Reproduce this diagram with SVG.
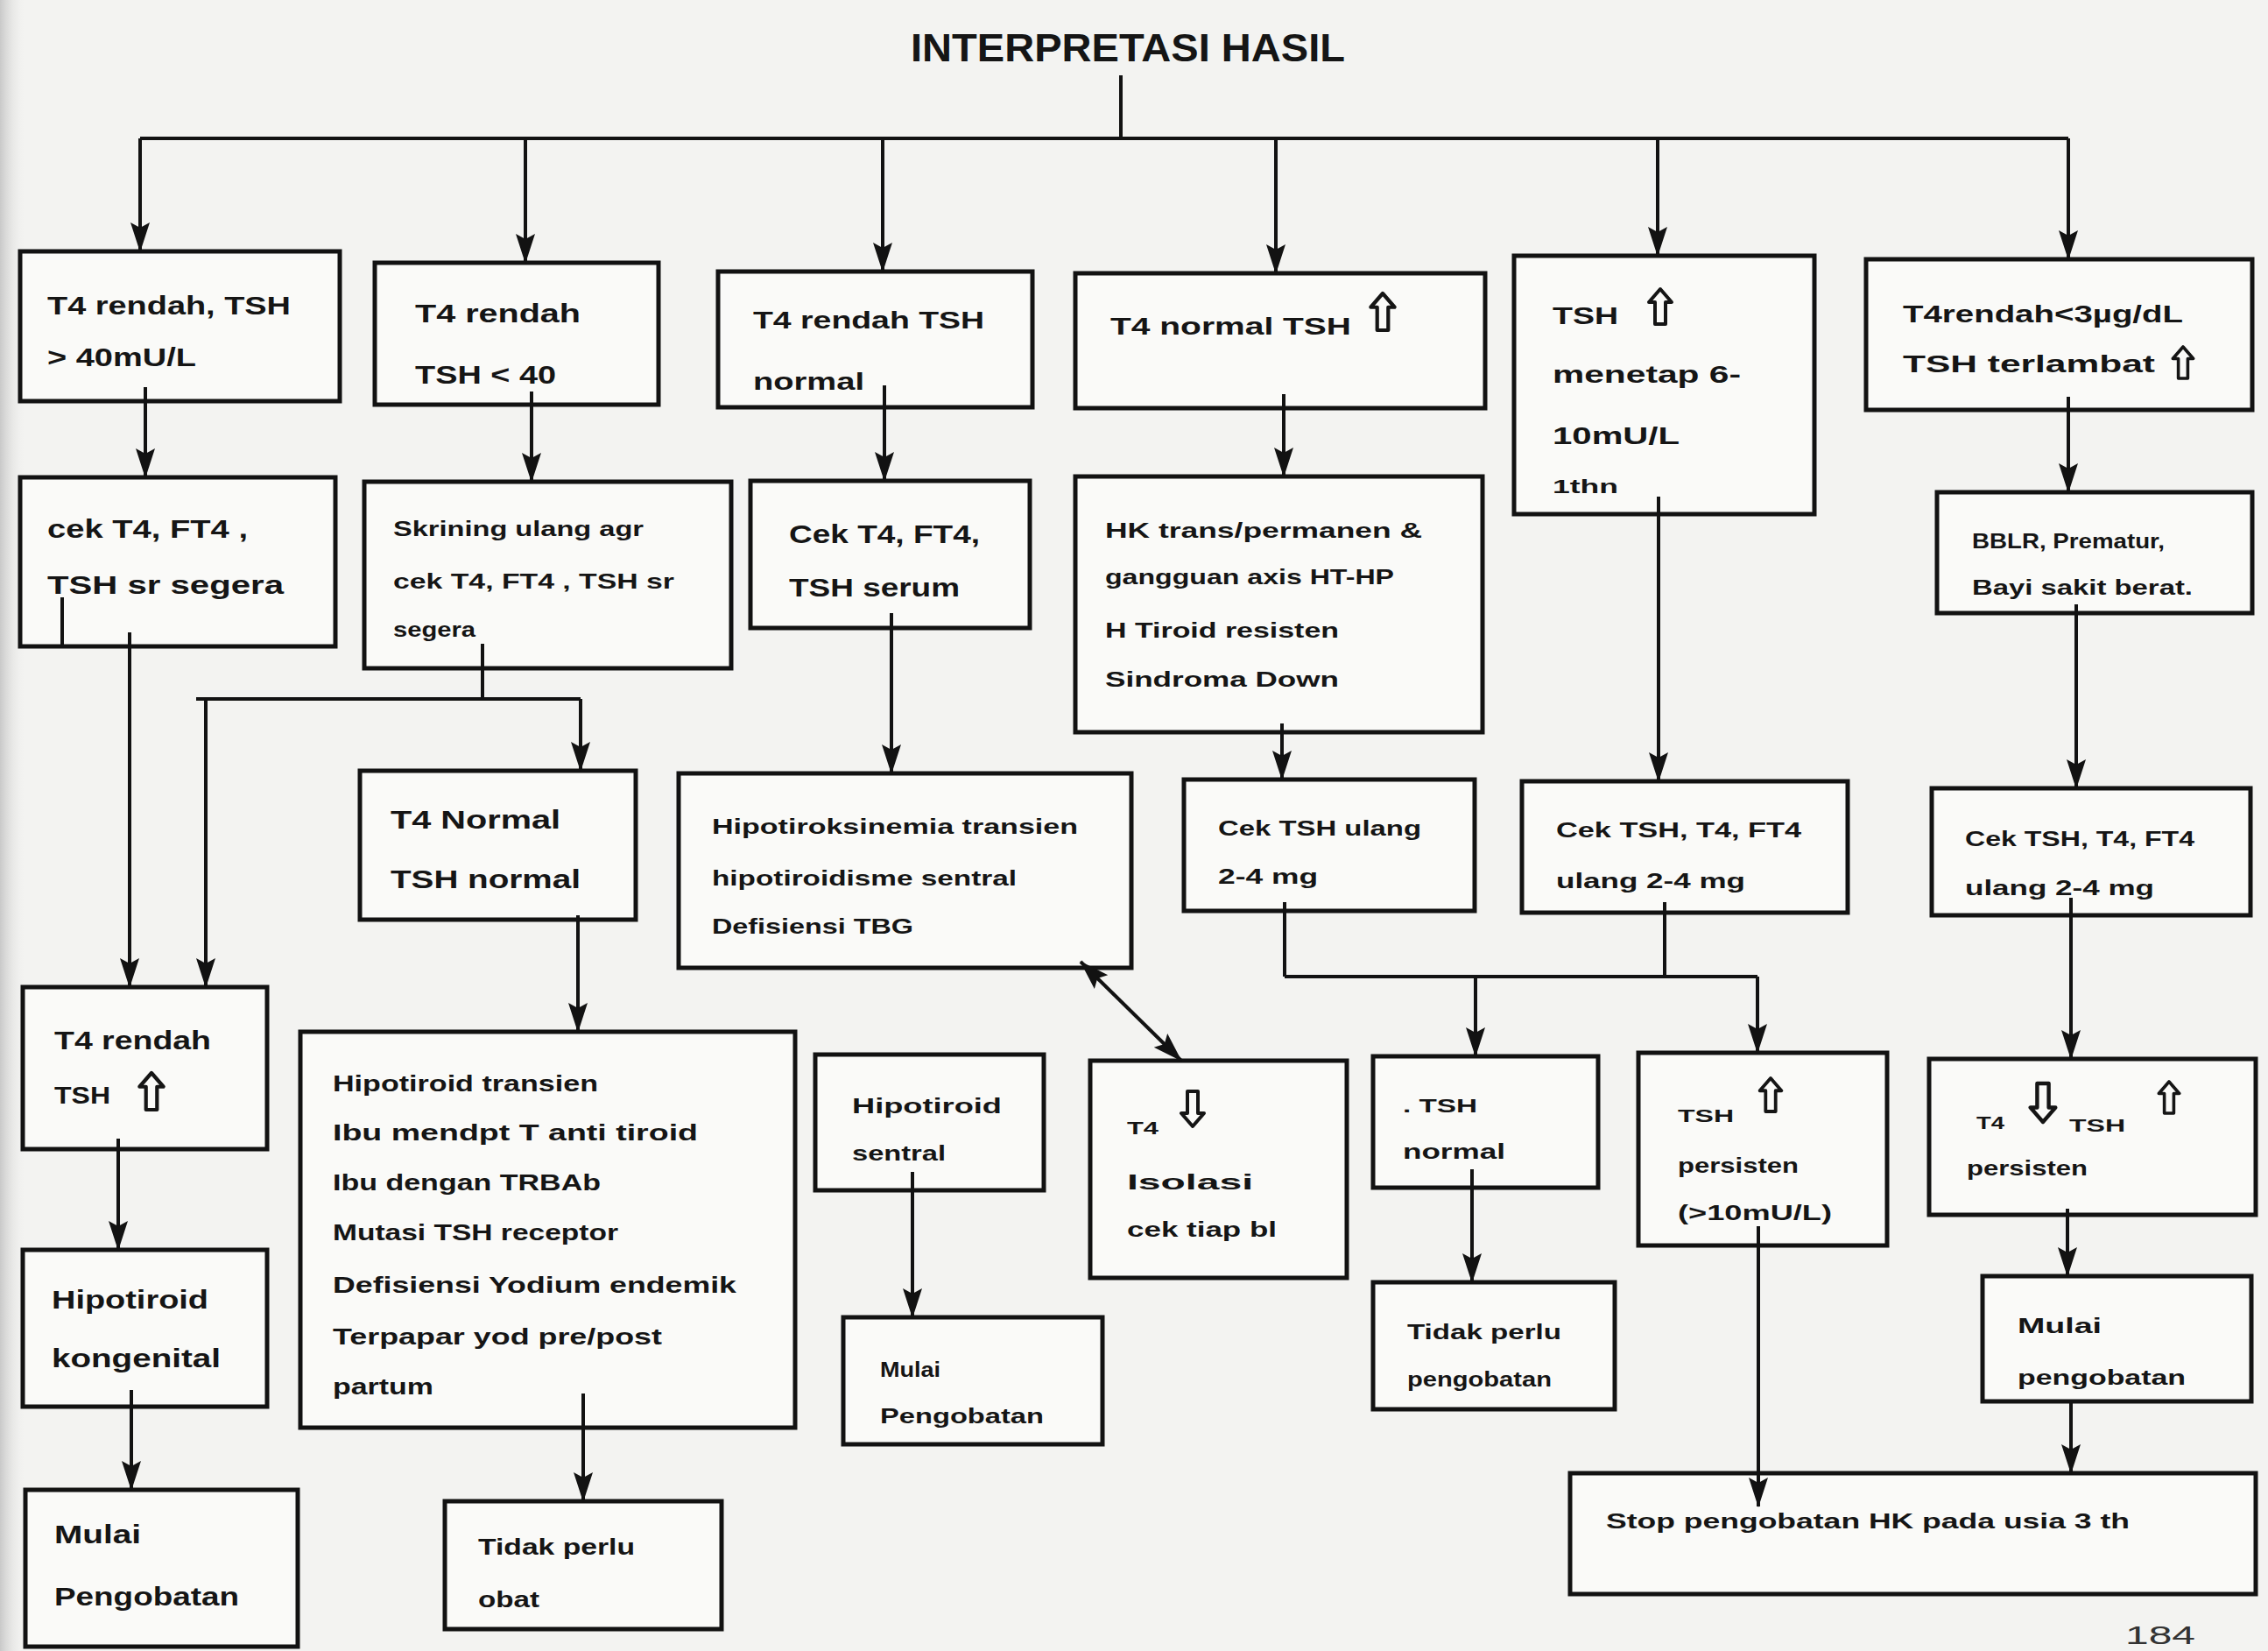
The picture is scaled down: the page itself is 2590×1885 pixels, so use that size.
<svg xmlns="http://www.w3.org/2000/svg" width="2590" height="1885" viewBox="0 0 2590 1885">
<style>
.bg{fill:#f3f3f1}
.box{fill:#fafaf8;stroke:#121212;stroke-width:5}
.t{font-family:"Liberation Sans",Arial,sans-serif;font-weight:bold;fill:#151515}
.s30{font-size:30px}.s28{font-size:28px}.s26{font-size:26px}.s24{font-size:24px}.s22{font-size:22px}.s20{font-size:20px}
.c{stroke:#121212;stroke-width:4;fill:none}
.a{marker-end:url(#ah)}
.ha{fill:none;stroke:#151515;stroke-width:4;stroke-linejoin:round}
</style>
<defs>
<marker id="ah" markerUnits="userSpaceOnUse" markerWidth="34" markerHeight="24" viewBox="0 0 34 24" refX="33" refY="12" orient="auto-start-reverse">
<path d="M0,1 L34,12 L0,23 L6,12 Z" fill="#121212"/>
</marker>
<path id="up" d="M0,-20 L13,-5 L6,-5 L6,20 L-6,20 L-6,-5 L-13,-5 Z"/>
<linearGradient id="edge" x1="0" y1="0" x2="1" y2="0">
<stop offset="0" stop-color="#c9c9c9"/>
<stop offset="1" stop-color="#f3f3f1" stop-opacity="0"/>
</linearGradient>
</defs>
<rect class="bg" x="0" y="0" width="2590" height="1885"/>
<rect x="0" y="0" width="30" height="1885" fill="url(#edge)"/>

<g id="title">
<text class="t" x="1040" y="70" font-size="44" textLength="496" lengthAdjust="spacingAndGlyphs">INTERPRETASI HASIL</text>
</g>

<g id="b1">
<rect class="box" x="23" y="287" width="365" height="171"/>
<text class="t s30" x="54" y="359" textLength="278" lengthAdjust="spacingAndGlyphs">T4 rendah, TSH</text>
<text class="t s30" x="54" y="418" textLength="170" lengthAdjust="spacingAndGlyphs">&gt; 40mU/L</text>
</g>
<g id="b2">
<rect class="box" x="428" y="300" width="324" height="162"/>
<text class="t s30" x="474" y="368" textLength="189" lengthAdjust="spacingAndGlyphs">T4  rendah</text>
<text class="t s30" x="474" y="438" textLength="161" lengthAdjust="spacingAndGlyphs">TSH &lt; 40</text>
</g>
<g id="b3">
<rect class="box" x="820" y="310" width="359" height="155"/>
<text class="t s28" x="860" y="375" textLength="264" lengthAdjust="spacingAndGlyphs">T4 rendah TSH</text>
<text class="t s28" x="860" y="445" textLength="127" lengthAdjust="spacingAndGlyphs">normal</text>
</g>
<g id="b4">
<rect class="box" x="1228" y="312" width="468" height="154"/>
<text class="t s28" x="1268" y="382" textLength="275" lengthAdjust="spacingAndGlyphs">T4 normal TSH</text>
<use href="#up" class="ha" transform="translate(1579,356) scale(1.05)"/>
</g>
<g id="b5">
<rect class="box" x="1729" y="292" width="343" height="295"/>
<text class="t s28" x="1773" y="370" textLength="75" lengthAdjust="spacingAndGlyphs">TSH</text>
<use href="#up" class="ha" transform="translate(1896,350)"/>
<text class="t s28" x="1773" y="437" textLength="215" lengthAdjust="spacingAndGlyphs">menetap 6-</text>
<text class="t s28" x="1773" y="507" textLength="145" lengthAdjust="spacingAndGlyphs">10mU/L</text>
<text class="t s22" x="1773" y="563" textLength="75" lengthAdjust="spacingAndGlyphs">1thn</text>
</g>
<g id="b6">
<rect class="box" x="2131" y="296" width="441" height="172"/>
<text class="t s28" x="2173" y="368" textLength="320" lengthAdjust="spacingAndGlyphs">T4rendah&lt;3µg/dL</text>
<text class="t s28" x="2173" y="425" textLength="288" lengthAdjust="spacingAndGlyphs">TSH  terlambat</text>
<use href="#up" class="ha" transform="translate(2493,414) scale(0.9)"/>
</g>

<g id="c1">
<rect class="box" x="23" y="545" width="360" height="193"/>
<text class="t s30" x="54" y="614" textLength="229" lengthAdjust="spacingAndGlyphs">cek T4, FT4 ,</text>
<text class="t s30" x="54" y="678" textLength="270" lengthAdjust="spacingAndGlyphs">TSH  sr  segera</text>
</g>
<g id="c2">
<rect class="box" x="416" y="550" width="419" height="213"/>
<text class="t s24" x="449" y="612" textLength="286" lengthAdjust="spacingAndGlyphs">Skrining ulang agr</text>
<text class="t s24" x="449" y="672" textLength="321" lengthAdjust="spacingAndGlyphs">cek T4, FT4 , TSH  sr</text>
<text class="t s24" x="449" y="727" textLength="94" lengthAdjust="spacingAndGlyphs">segera</text>
</g>
<g id="c3">
<rect class="box" x="857" y="549" width="319" height="168"/>
<text class="t s30" x="901" y="620" textLength="218" lengthAdjust="spacingAndGlyphs">Cek T4, FT4,</text>
<text class="t s30" x="901" y="681" textLength="195" lengthAdjust="spacingAndGlyphs">TSH serum</text>
</g>
<g id="c4">
<rect class="box" x="1228" y="544" width="465" height="292"/>
<text class="t s24" x="1262" y="614" textLength="362" lengthAdjust="spacingAndGlyphs">HK trans/permanen  &amp;</text>
<text class="t s24" x="1262" y="667" textLength="330" lengthAdjust="spacingAndGlyphs">gangguan  axis HT-HP</text>
<text class="t s24" x="1262" y="728" textLength="267" lengthAdjust="spacingAndGlyphs">H Tiroid resisten</text>
<text class="t s24" x="1262" y="784" textLength="267" lengthAdjust="spacingAndGlyphs">Sindroma Down</text>
</g>
<g id="c5">
<rect class="box" x="2212" y="562" width="360" height="138"/>
<text class="t s24" x="2252" y="626" textLength="220" lengthAdjust="spacingAndGlyphs">BBLR, Prematur,</text>
<text class="t s24" x="2252" y="679" textLength="252" lengthAdjust="spacingAndGlyphs">Bayi  sakit berat.</text>
</g>

<g id="d1">
<rect class="box" x="411" y="880" width="315" height="170"/>
<text class="t s30" x="446" y="946" textLength="194" lengthAdjust="spacingAndGlyphs">T4 Normal</text>
<text class="t s30" x="446" y="1014" textLength="217" lengthAdjust="spacingAndGlyphs">TSH normal</text>
</g>
<g id="d2">
<rect class="box" x="775" y="883" width="517" height="222"/>
<text class="t s24" x="813" y="952" textLength="418" lengthAdjust="spacingAndGlyphs">Hipotiroksinemia transien</text>
<text class="t s24" x="813" y="1011" textLength="348" lengthAdjust="spacingAndGlyphs">hipotiroidisme sentral</text>
<text class="t s24" x="813" y="1066" textLength="230" lengthAdjust="spacingAndGlyphs">Defisiensi TBG</text>
</g>
<g id="d3">
<rect class="box" x="1352" y="890" width="332" height="150"/>
<text class="t s24" x="1391" y="954" textLength="232" lengthAdjust="spacingAndGlyphs">Cek TSH  ulang</text>
<text class="t s24" x="1391" y="1009" textLength="114" lengthAdjust="spacingAndGlyphs">2-4 mg</text>
</g>
<g id="d4">
<rect class="box" x="1738" y="892" width="372" height="150"/>
<text class="t s24" x="1777" y="956" textLength="280" lengthAdjust="spacingAndGlyphs">Cek TSH,  T4,  FT4</text>
<text class="t s24" x="1777" y="1014" textLength="216" lengthAdjust="spacingAndGlyphs">ulang 2-4 mg</text>
</g>
<g id="d5">
<rect class="box" x="2206" y="900" width="364" height="145"/>
<text class="t s24" x="2244" y="966" textLength="262" lengthAdjust="spacingAndGlyphs">Cek TSH, T4, FT4</text>
<text class="t s24" x="2244" y="1022" textLength="216" lengthAdjust="spacingAndGlyphs">ulang 2-4 mg</text>
</g>

<g id="e1">
<rect class="box" x="26" y="1127" width="279" height="185"/>
<text class="t s30" x="62" y="1198" textLength="179" lengthAdjust="spacingAndGlyphs">T4 rendah</text>
<text class="t s28" x="62" y="1260" textLength="64" lengthAdjust="spacingAndGlyphs">TSH</text>
<use href="#up" class="ha" transform="translate(173,1246) scale(1.05)"/>
</g>
<g id="e2">
<rect class="box" x="343" y="1178" width="565" height="452"/>
<text class="t s26" x="380" y="1246" textLength="303" lengthAdjust="spacingAndGlyphs">Hipotiroid transien</text>
<text class="t s26" x="380" y="1302" textLength="417" lengthAdjust="spacingAndGlyphs">Ibu mendpt T anti tiroid</text>
<text class="t s26" x="380" y="1359" textLength="306" lengthAdjust="spacingAndGlyphs">Ibu dengan TRBAb</text>
<text class="t s26" x="380" y="1416" textLength="326" lengthAdjust="spacingAndGlyphs">Mutasi TSH receptor</text>
<text class="t s26" x="380" y="1476" textLength="461" lengthAdjust="spacingAndGlyphs">Defisiensi  Yodium endemik</text>
<text class="t s26" x="380" y="1535" textLength="376" lengthAdjust="spacingAndGlyphs">Terpapar  yod pre/post</text>
<text class="t s26" x="380" y="1592" textLength="115" lengthAdjust="spacingAndGlyphs">partum</text>
</g>
<g id="e3">
<rect class="box" x="931" y="1204" width="261" height="155"/>
<text class="t s24" x="973" y="1271" textLength="171" lengthAdjust="spacingAndGlyphs">Hipotiroid</text>
<text class="t s24" x="973" y="1325" textLength="107" lengthAdjust="spacingAndGlyphs">sentral</text>
</g>
<g id="e4">
<rect class="box" x="1245" y="1211" width="293" height="248"/>
<text class="t s20" x="1287" y="1295" textLength="36" lengthAdjust="spacingAndGlyphs">T4</text>
<use href="#up" class="ha" transform="translate(1362,1266) rotate(180)"/>
<text class="t s24" x="1287" y="1358" textLength="144" lengthAdjust="spacingAndGlyphs">Isolasi</text>
<text class="t s24" x="1287" y="1412" textLength="171" lengthAdjust="spacingAndGlyphs">cek tiap bl</text>
</g>
<g id="e5">
<rect class="box" x="1568" y="1206" width="257" height="150"/>
<text class="t s22" x="1602" y="1270" textLength="85" lengthAdjust="spacingAndGlyphs">. TSH</text>
<text class="t s24" x="1602" y="1323" textLength="117" lengthAdjust="spacingAndGlyphs">normal</text>
</g>
<g id="e6">
<rect class="box" x="1871" y="1202" width="284" height="220"/>
<text class="t s20" x="1916" y="1281" textLength="64" lengthAdjust="spacingAndGlyphs">TSH</text>
<use href="#up" class="ha" transform="translate(2022,1250) scale(0.95)"/>
<text class="t s24" x="1916" y="1339" textLength="138" lengthAdjust="spacingAndGlyphs">persisten</text>
<text class="t s24" x="1916" y="1393" textLength="176" lengthAdjust="spacingAndGlyphs">(&gt;10mU/L)</text>
</g>
<g id="e7">
<rect class="box" x="2203" y="1209" width="373" height="178"/>
<text class="t s20" x="2257" y="1289" textLength="32" lengthAdjust="spacingAndGlyphs">T4</text>
<use href="#up" class="ha" transform="translate(2333,1259) rotate(180) scale(1.1)"/>
<text class="t s20" x="2363" y="1292" textLength="64" lengthAdjust="spacingAndGlyphs">TSH</text>
<use href="#up" class="ha" transform="translate(2477,1253) scale(0.9)"/>
<text class="t s24" x="2246" y="1342" textLength="138" lengthAdjust="spacingAndGlyphs">persisten</text>
</g>

<g id="f1">
<rect class="box" x="26" y="1427" width="279" height="179"/>
<text class="t s30" x="59" y="1494" textLength="179" lengthAdjust="spacingAndGlyphs">Hipotiroid</text>
<text class="t s30" x="59" y="1561" textLength="193" lengthAdjust="spacingAndGlyphs">kongenital</text>
</g>
<g id="f2">
<rect class="box" x="963" y="1504" width="296" height="145"/>
<text class="t s24" x="1005" y="1572" textLength="69" lengthAdjust="spacingAndGlyphs">Mulai</text>
<text class="t s24" x="1005" y="1625" textLength="187" lengthAdjust="spacingAndGlyphs">Pengobatan</text>
</g>
<g id="f3">
<rect class="box" x="1568" y="1464" width="276" height="145"/>
<text class="t s24" x="1607" y="1529" textLength="176" lengthAdjust="spacingAndGlyphs">Tidak perlu</text>
<text class="t s24" x="1607" y="1583" textLength="165" lengthAdjust="spacingAndGlyphs">pengobatan</text>
</g>
<g id="f4">
<rect class="box" x="2264" y="1457" width="307" height="143"/>
<text class="t s24" x="2304" y="1522" textLength="96" lengthAdjust="spacingAndGlyphs">Mulai</text>
<text class="t s24" x="2304" y="1581" textLength="192" lengthAdjust="spacingAndGlyphs">pengobatan</text>
</g>

<g id="g1">
<rect class="box" x="29" y="1701" width="311" height="179"/>
<text class="t s30" x="62" y="1762" textLength="99" lengthAdjust="spacingAndGlyphs">Mulai</text>
<text class="t s30" x="62" y="1833" textLength="211" lengthAdjust="spacingAndGlyphs">Pengobatan</text>
</g>
<g id="g2">
<rect class="box" x="508" y="1714" width="316" height="146"/>
<text class="t s26" x="546" y="1775" textLength="179" lengthAdjust="spacingAndGlyphs">Tidak perlu</text>
<text class="t s26" x="546" y="1835" textLength="70" lengthAdjust="spacingAndGlyphs">obat</text>
</g>
<g id="g3">
<rect class="box" x="1793" y="1682" width="783" height="138"/>
<text class="t s24" x="1834" y="1745" textLength="598" lengthAdjust="spacingAndGlyphs">Stop pengobatan  HK pada usia 3 th</text>
</g>

<g id="page">
<text x="2427" y="1877" font-family="Liberation Sans, Arial, sans-serif" font-size="30" fill="#333" textLength="80" lengthAdjust="spacingAndGlyphs">184</text>
</g>

<g id="connectors">
<path class="c" d="M1280,86 V158"/>
<path class="c" d="M160,158 H2362" stroke-width="6"/>
<path class="c a" d="M160,158 V287"/>
<path class="c a" d="M600,158 V300"/>
<path class="c a" d="M1008,158 V310"/>
<path class="c a" d="M1457,158 V312"/>
<path class="c a" d="M1893,158 V292"/>
<path class="c a" d="M2362,158 V296"/>
<path class="c a" d="M166,442 V545"/>
<path class="c a" d="M607,447 V550"/>
<path class="c a" d="M1010,440 V549"/>
<path class="c a" d="M1466,450 V544"/>
<path class="c a" d="M1894,567 V892"/>
<path class="c a" d="M2362,453 V562"/>
<path class="c a" d="M2371,690 V900"/>
<path class="c" d="M71,682 V738"/>
<path class="c a" d="M148,722 V1127"/>
<path class="c" d="M551,735 V798"/>
<path class="c" d="M224,798 H663" stroke-width="5"/>
<path class="c a" d="M235,798 V1127"/>
<path class="c a" d="M663,798 V880"/>
<path class="c a" d="M660,1045 V1178"/>
<path class="c a" d="M1018,700 V883"/>
<path class="c a" d="M1464,826 V890"/>
<path class="c a" d="M1234,1098 L1349,1211" stroke-width="5" marker-start="url(#ah)"/>
<path class="c" d="M1467,1030 V1115"/>
<path class="c" d="M1901,1030 V1115"/>
<path class="c" d="M1467,1115 H2007" stroke-width="5"/>
<path class="c a" d="M1685,1115 V1206"/>
<path class="c a" d="M2007,1115 V1202"/>
<path class="c a" d="M2365,1025 V1209"/>
<path class="c a" d="M135,1300 V1427"/>
<path class="c a" d="M150,1587 V1701"/>
<path class="c a" d="M666,1591 V1714"/>
<path class="c a" d="M1042,1338 V1504"/>
<path class="c a" d="M1681,1335 V1464"/>
<path class="c a" d="M2008,1400 V1720"/>
<path class="c a" d="M2361,1380 V1457"/>
<path class="c a" d="M2365,1600 V1682"/>
</g>
</svg>
